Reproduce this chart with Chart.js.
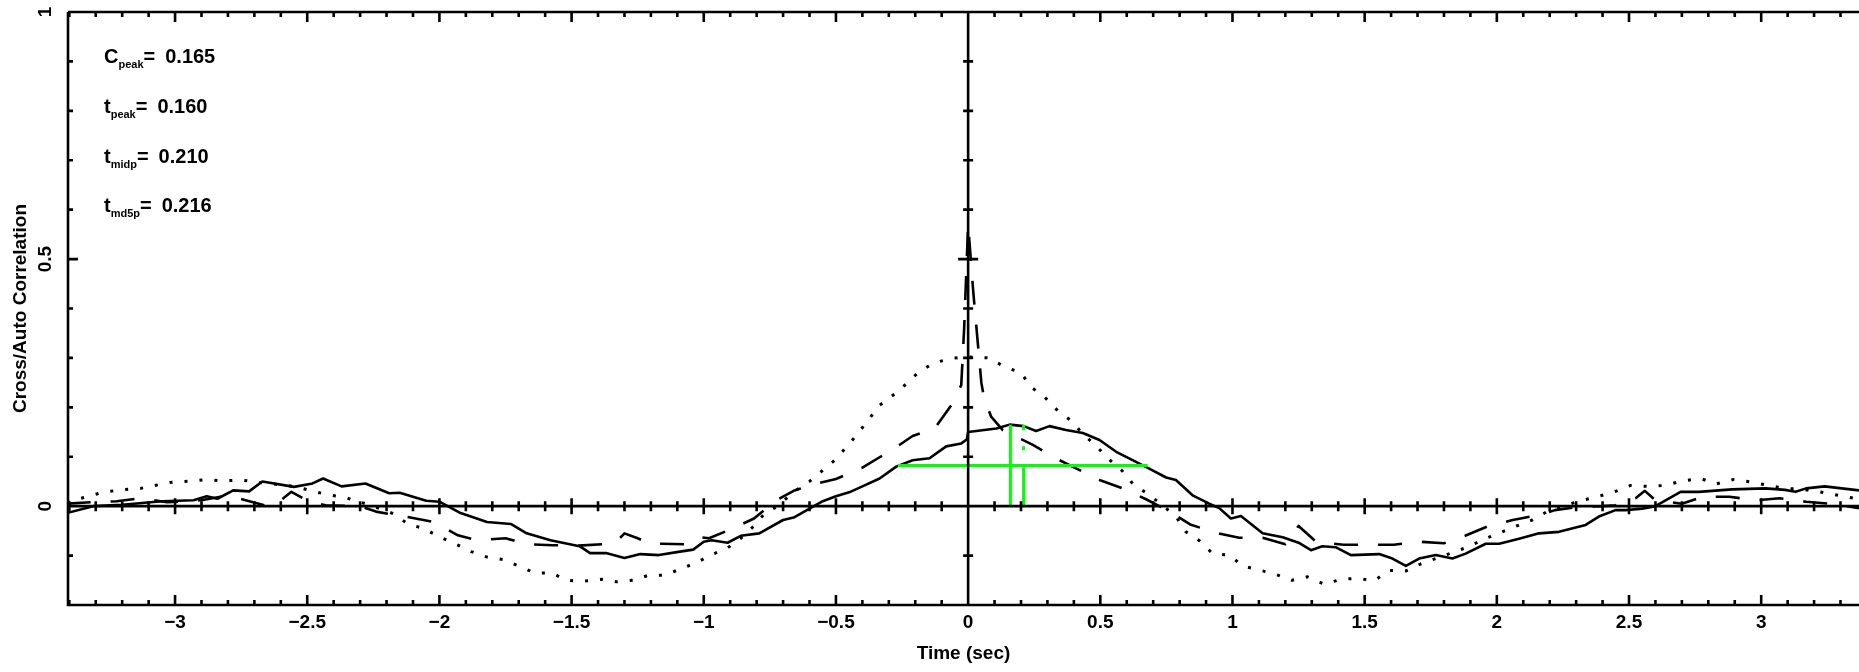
<!DOCTYPE html>
<html>
<head>
<meta charset="utf-8">
<style>
  html, body { margin: 0; padding: 0; background: #fff; }
  #wrap { width: 1859px; height: 672px; }
</style>
<script src="https://cdn.jsdelivr.net/npm/chart.js@4.4.1/dist/chart.umd.min.js"></script>
</head>
<body>
<div id="wrap"><canvas id="xcorr" width="1859" height="672"></canvas></div>
<script>
// cross-correlation (solid)
const ccfT = [-3.41,-3.31,-3.2,-3.05,-2.93,-2.88,-2.84,-2.78,-2.72,-2.67,-2.55,-2.48,-2.44,-2.37,-2.28,-2.19,-2.15,-2.05,-2.0,-1.92,-1.82,-1.73,-1.67,-1.58,-1.47,-1.43,-1.37,-1.30,-1.24,-1.17,-1.09,-1.04,-1.0,-0.97,-0.91,-0.86,-0.79,-0.70,-0.66,-0.6,-0.55,-0.5,-0.45,-0.4,-0.335,-0.272,-0.21,-0.146,-0.083,-0.026,-0.005,0.0,0.107,0.157,0.21,0.257,0.308,0.37,0.434,0.497,0.56,0.622,0.685,0.749,0.786,0.849,0.912,0.95,0.994,1.032,1.114,1.19,1.25,1.297,1.34,1.39,1.448,1.555,1.605,1.656,1.706,1.769,1.832,1.882,1.958,2.009,2.084,2.16,2.235,2.336,2.386,2.449,2.487,2.55,2.6,2.695,2.764,2.89,3.016,3.09,3.13,3.17,3.24,3.37];
const ccfY = [-0.014,0.0,0.003,0.01,0.012,0.02,0.015,0.032,0.03,0.05,0.039,0.046,0.056,0.04,0.046,0.026,0.027,0.011,0.009,-0.014,-0.032,-0.036,-0.055,-0.069,-0.081,-0.095,-0.095,-0.105,-0.097,-0.099,-0.092,-0.088,-0.072,-0.069,-0.074,-0.06,-0.055,-0.028,-0.023,-0.005,0.01,0.02,0.028,0.04,0.056,0.080,0.093,0.097,0.121,0.127,0.135,0.150,0.157,0.165,0.162,0.152,0.162,0.154,0.148,0.134,0.110,0.093,0.076,0.058,0.053,0.022,0.005,-0.004,-0.025,-0.02,-0.055,-0.063,-0.074,-0.089,-0.081,-0.083,-0.099,-0.097,-0.106,-0.121,-0.106,-0.099,-0.106,-0.096,-0.076,-0.076,-0.066,-0.055,-0.052,-0.038,-0.021,-0.008,-0.008,-0.005,0.0,0.029,0.029,0.034,0.036,0.033,0.029,0.036,0.040,0.032];

// dashed curve
const dashT = [-3.41,-3.32,-3.22,-3.13,-3.03,-2.9,-2.8,-2.74,-2.65,-2.6,-2.56,-2.49,-2.43,-2.3,-2.24,-2.11,-2.02,-1.93,-1.86,-1.75,-1.67,-1.57,-1.48,-1.38,-1.33,-1.30,-1.25,-1.2,-1.16,-1.07,-1.015,-0.98,-0.89,-0.81,-0.725,-0.66,-0.6,-0.5,-0.4,-0.335,-0.29,-0.21,-0.127,-0.064,-0.026,-0.015,-0.005,0.0,0.01,0.02,0.03,0.04,0.05,0.06,0.087,0.131,0.245,0.32,0.41,0.497,0.585,0.673,0.76,0.84,0.937,1.025,1.114,1.2,1.25,1.316,1.42,1.52,1.61,1.71,1.8,1.88,1.97,2.06,2.16,2.22,2.3,2.4,2.45,2.525,2.56,2.6,2.7,2.78,2.88,2.98,3.07,3.17,3.26,3.37];
const dashY = [0.005,0.008,0.01,0.016,0.008,0.012,0.022,0.013,0.0,0.012,0.029,0.008,0.002,0.0,-0.011,-0.023,-0.032,-0.059,-0.069,-0.065,-0.077,-0.079,-0.080,-0.077,-0.072,-0.055,-0.065,-0.077,-0.076,-0.077,-0.063,-0.065,-0.045,-0.025,0.012,0.031,0.042,0.055,0.078,0.099,0.113,0.142,0.157,0.204,0.245,0.36,0.50,0.57,0.50,0.43,0.37,0.31,0.25,0.22,0.181,0.154,0.124,0.10,0.076,0.053,0.036,0.014,-0.01,-0.037,-0.054,-0.064,-0.064,-0.077,-0.04,-0.072,-0.078,-0.078,-0.078,-0.072,-0.075,-0.06,-0.04,-0.028,-0.018,-0.008,-0.002,0.0,0.002,0.016,0.031,0.012,0.005,0.019,0.019,0.012,0.016,0.009,0.005,-0.004];

// dotted curve
const dotT = [-3.41,-3.28,-3.21,-3.13,-3.02,-2.94,-2.88,-2.82,-2.75,-2.68,-2.55,-2.43,-2.36,-2.25,-2.17,-2.12,-2.06,-2.0,-1.93,-1.88,-1.82,-1.76,-1.70,-1.64,-1.575,-1.52,-1.456,-1.387,-1.33,-1.267,-1.21,-1.147,-1.084,-1.03,-0.97,-0.914,-0.86,-0.81,-0.77,-0.72,-0.66,-0.6,-0.5,-0.42,-0.335,-0.278,-0.228,-0.184,-0.127,-0.064,0,0.08,0.137,0.20,0.238,0.289,0.339,0.39,0.433,0.484,0.532,0.582,0.625,0.682,0.73,0.786,0.824,0.875,0.925,0.988,1.038,1.108,1.164,1.225,1.284,1.347,1.41,1.473,1.536,1.593,1.656,1.712,1.8,1.889,1.96,2.071,2.134,2.197,2.31,2.386,2.449,2.506,2.569,2.638,2.70,2.77,2.83,2.895,2.96,3.026,3.09,3.16,3.22,3.29,3.37];
const dotY = [0.008,0.027,0.033,0.036,0.048,0.051,0.054,0.051,0.053,0.048,0.04,0.024,0.018,0.0,-0.016,-0.036,-0.045,-0.062,-0.079,-0.092,-0.103,-0.108,-0.121,-0.135,-0.135,-0.150,-0.152,-0.148,-0.153,-0.150,-0.14,-0.14,-0.126,-0.115,-0.098,-0.086,-0.065,-0.04,-0.015,0.0,0.029,0.05,0.095,0.145,0.204,0.227,0.250,0.273,0.290,0.299,0.302,0.300,0.282,0.270,0.241,0.221,0.193,0.173,0.147,0.122,0.095,0.072,0.044,0.024,0.004,-0.021,-0.052,-0.070,-0.096,-0.099,-0.121,-0.130,-0.138,-0.150,-0.143,-0.158,-0.148,-0.146,-0.151,-0.13,-0.131,-0.117,-0.1,-0.083,-0.065,-0.041,-0.028,-0.009,0.01,0.020,0.030,0.042,0.040,0.042,0.051,0.056,0.045,0.054,0.049,0.042,0.036,0.034,0.029,0.022,0.014];

// peak stats and half-max crossings
const cPeak = 0.165;
const tPeak = 0.160;
const tMidp = 0.210;
const halfCross = [-0.266, 0.679];

const statNames = ["C", "t", "t", "t"];
const statSubs = ["peak", "peak", "midp", "md5p"];
const statValues = ["0.165", "0.160", "0.210", "0.216"];

const xRange = [-3.405, 3.37];
const yRange = [-0.2, 1.0];
const minorStep = 0.1;

const FONT = '"Liberation Sans", Arial, sans-serif';
const GREEN = "#00ff00";

function pts(ts, ys) { return ts.map((t, i) => ({ x: t, y: ys[i] })); }

function minusLabel(v) {
  const r = Math.round(v * 10) / 10;
  return (r < 0 ? "\u2212" : "") + String(Math.abs(r));
}

// frame, zero lines, tick marks and the stats text
const framePlugin = {
  id: "frame",
  afterDatasetsDraw(chart) {
    const { ctx, chartArea: a, scales: { x, y } } = chart;
    const x0 = x.getPixelForValue(0), y0 = y.getPixelForValue(0);
    ctx.save();
    ctx.strokeStyle = "#000";
    ctx.lineWidth = 2.6;
    ctx.beginPath();
    ctx.moveTo(a.left, a.top); ctx.lineTo(a.right, a.top);
    ctx.moveTo(a.left, a.top); ctx.lineTo(a.left, a.bottom); ctx.lineTo(a.right, a.bottom);
    ctx.moveTo(a.left, y0); ctx.lineTo(a.right, y0);
    ctx.moveTo(x0, a.top); ctx.lineTo(x0, a.bottom);
    const nx0 = Math.ceil(xRange[0] / minorStep - 1e-6), nx1 = Math.floor(xRange[1] / minorStep + 1e-6);
    for (let i = nx0; i <= nx1; i++) {
      const px = x.getPixelForValue(i * minorStep);
      const major = i % 5 === 0;
      const L = major ? 10 : 5;
      ctx.moveTo(px, a.bottom); ctx.lineTo(px, a.bottom - L);
      ctx.moveTo(px, a.top); ctx.lineTo(px, a.top + L);
      const Z = major ? 8 : 5;
      ctx.moveTo(px, y0 - Z); ctx.lineTo(px, y0 + Z);
    }
    const ny0 = Math.ceil(yRange[0] / minorStep - 1e-6), ny1 = Math.floor(yRange[1] / minorStep + 1e-6);
    for (let j = ny0; j <= ny1; j++) {
      const py = y.getPixelForValue(j * minorStep);
      const major = j % 5 === 0;
      const L = major ? 10 : 5;
      ctx.moveTo(a.left, py); ctx.lineTo(a.left + L, py);
      ctx.moveTo(x0 - L, py); ctx.lineTo(x0 + L, py);
    }
    ctx.stroke();

    // C_peak / t_peak / t_midp / t_md5p block, top left
    ctx.fillStyle = "#000";
    ctx.textBaseline = "alphabetic";
    ctx.textAlign = "left";
    const baselines = [63, 113, 163, 212];
    statNames.forEach((name, i) => {
      let px = 104;
      const base = baselines[i];
      ctx.font = "bold 20px " + FONT;
      ctx.fillText(name, px, base);
      px += ctx.measureText(name).width;
      ctx.font = "bold 11px " + FONT;
      ctx.fillText(statSubs[i], px, base + 5);
      px += ctx.measureText(statSubs[i]).width;
      ctx.font = "bold 20px " + FONT;
      ctx.fillText("=", px, base);
      px += ctx.measureText("=").width + 10;
      ctx.fillText(statValues[i], px, base);
    });
    ctx.restore();
  }
};

const lineBase = { pointRadius: 0, tension: 0, fill: false, borderWidth: 2.6, borderColor: "#000", borderJoinStyle: "round" };

new Chart(document.getElementById("xcorr"), {
  type: "line",
  data: {
    datasets: [
      Object.assign({}, lineBase, { label: "half max", data: [{ x: halfCross[0], y: cPeak / 2 }, { x: halfCross[1], y: cPeak / 2 }], borderColor: GREEN, borderWidth: 3, order: 0 }),
      Object.assign({}, lineBase, { label: "t peak", data: [{ x: tPeak, y: 0 }, { x: tPeak, y: cPeak }], borderColor: GREEN, borderWidth: 3, order: 0 }),
      Object.assign({}, lineBase, { label: "t midp", data: [{ x: tMidp, y: 0 }, { x: tMidp, y: cPeak }], borderColor: GREEN, borderWidth: 3, borderDash: [39, 17, 4, 16], order: 0 }),
      Object.assign({}, lineBase, { label: "CCF", data: pts(ccfT, ccfY), order: 1 }),
      Object.assign({}, lineBase, { label: "dashed", data: pts(dashT, dashY), borderDash: [24, 20], order: 1 }),
      Object.assign({}, lineBase, { label: "dotted", data: pts(dotT, dotY), borderDash: [3, 12], borderWidth: 3, order: 1 })
    ]
  },
  options: {
    responsive: false,
    animation: false,
    devicePixelRatio: 1,
    layout: { padding: { top: 12, left: 0, right: 0, bottom: 0 } },
    plugins: { legend: { display: false }, tooltip: { enabled: false } },
    scales: {
      x: {
        type: "linear",
        min: xRange[0], max: xRange[1],
        grid: { display: false, drawTicks: false },
        border: { display: false },
        ticks: {
          stepSize: 0.5, includeBounds: false, padding: 6, color: "#000",
          maxRotation: 0, autoSkip: false,
          font: { family: FONT, size: 19, weight: "bold" },
          callback: minusLabel
        },
        title: { display: true, text: "Time (sec)", color: "#000", padding: { top: 0, bottom: 7 }, font: { family: FONT, size: 19, weight: "bold" } },
        afterFit(s) { s.height = 67; s.paddingLeft = 0; s.paddingRight = 0; s.paddingTop = 0; s.paddingBottom = 0; }
      },
      y: {
        type: "linear",
        min: yRange[0], max: yRange[1],
        grid: { display: false, drawTicks: false },
        border: { display: false },
        ticks: {
          stepSize: 0.5, includeBounds: false, padding: 9, color: "#000",
          minRotation: 90, maxRotation: 90, crossAlign: "center",
          font: { family: FONT, size: 19, weight: "bold" },
          callback: minusLabel
        },
        title: { display: true, text: "Cross/Auto Correlation", color: "#000", padding: { top: 9, bottom: 0 }, font: { family: FONT, size: 19, weight: "bold" } },
        afterFit(s) { s.width = 68; s.paddingLeft = 0; s.paddingRight = 0; s.paddingTop = 0; s.paddingBottom = 0; }
      }
    }
  },
  plugins: [framePlugin]
});
</script>
</body>
</html>
